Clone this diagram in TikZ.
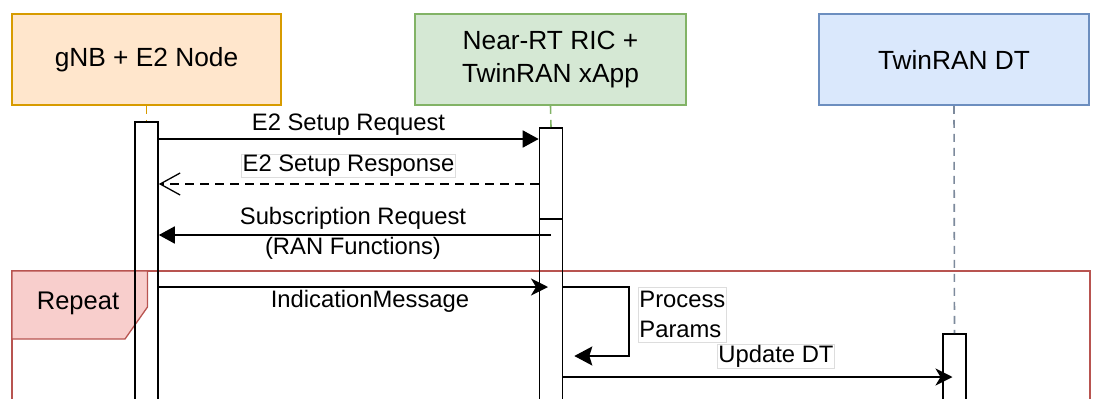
\documentclass[tikz,border=0pt]{standalone}
\usepackage{fontspec}
\setmainfont{Liberation Sans}
\usetikzlibrary{arrows.meta,calc}

\definecolor{orfill}{HTML}{FFE6CC}
\definecolor{orline}{HTML}{D79B00}
\definecolor{grfill}{HTML}{D5E8D4}
\definecolor{grline}{HTML}{82B366}
\definecolor{blfill}{HTML}{DAE8FC}
\definecolor{blline}{HTML}{6C8EBF}
\definecolor{rdfill}{HTML}{F8CECC}
\definecolor{rdline}{HTML}{B85450}
\definecolor{lifegray}{HTML}{7D8A9C}
\definecolor{labelbox}{HTML}{DDDDDD}

\tikzset{
  head/.style={draw, line width=1.6pt, inner sep=0pt, align=center,
    minimum height=91pt, font=\fontsize{26.3}{33}\selectfont},
  lifeline/.style={line width=1.6pt, dash pattern=on 8pt off 6pt},
  actbar/.style={draw, line width=1.6pt, minimum width=23pt, inner sep=0pt,
    anchor=north},
  msg/.style={draw, line width=1.8pt},
  msgtext/.style={font=\fontsize{23.8}{30}\selectfont, inner sep=1pt},
  boxedtext/.style={msgtext, draw=labelbox, line width=0.8pt, fill=white},
  solidtip/.style={-{Triangle[length=16pt,width=17pt]}},
  sharptip/.style={-{Stealth[length=17pt,width=17pt,inset=5pt]}},
  opentip/.style={-{Straight Barb[length=20pt,width=22pt,line width=1.3pt]}},
  frame/.style={draw=rdline, line width=1.3pt},
}

\begin{document}
\begin{tikzpicture}[x=1pt,y=-1pt]
\useasboundingbox (0,0) rectangle (1093,399);
\clip (0,0) rectangle (1093,399);

% participants
\node[head, fill=orfill, draw=orline, minimum width=269pt] (gnb) at (146.5,59.5) {gNB + E2 Node};
\node[head, fill=grfill, draw=grline, minimum width=271pt] (ric) at (550.5,59.5) {Near-RT RIC +\\TwinRAN xApp};
\node[head, fill=blfill, draw=blline, minimum width=270pt] (dt) at (954,59.5) {TwinRAN DT};

% loop frame with its tab
\draw[frame] (12,271) rectangle (1090,430);
\draw[frame, fill=rdfill] (12,271) -- (147.5,271) -- (147.5,307) -- (125,339) -- (12,339) -- cycle;
\node[font=\fontsize{25.5}{30}\selectfont, inner sep=0pt] (rep) at (78,303) {Repeat};

% activation bars
\node[actbar, minimum height=320pt] (g1) at (146.5,121) {};
\node[actbar, minimum height=91pt] (r1) at (551,127) {};
\node[actbar, minimum height=220pt] (r2) at (551,218) {};
\node[actbar, minimum height=120pt] (d1) at (954.5,333) {};

% lifelines
\draw[lifeline, draw=orline] (gnb.south) -- (g1.north);
\draw[lifeline, draw=grline] (ric.south) -- (r1.north);
\draw[lifeline, draw=lifegray] (dt.south) -- (d1.north);

% E2 setup
\draw[msg, solidtip] (g1.east |- 0,139) -- (r1.west |- 0,139);
\node[msgtext] (m1) at (348.5,125) {E2 Setup Request};

\draw[msg, opentip, dash pattern=on 9pt off 6pt] (r1.west |- 0,184) -- (g1.east |- 0,184);
\node[boxedtext] (m2) at (348.5,166) {E2 Setup Response};

% subscription
\draw[msg, solidtip] (r1.center |- 0,235) -- (g1.east |- 0,235);
\node[msgtext] (m3) at (353,218) {Subscription Request};
\node[msgtext] (m3b) at (353,248) {(RAN Functions)};

% indication
\draw[msg, sharptip] (g1.east |- 0,287) -- ($(r2.center |- 0,287)+(-3,0)$);
\node[msgtext] (m4) at (370,301) {IndicationMessage};

% self call
\coordinate (s1) at (629,287);
\coordinate (s2) at (629,356);
\draw[msg, -{Stealth[length=18pt,width=19pt,inset=3pt]}]
  (r2.east |- s1) -- (s1) -- (s2) -- ($(r2.east |- s2)+(11,0)$);
\node[boxedtext, anchor=north west, align=left, inner ysep=4pt] (m5) at (638,287) {Process\\Params};

% update
\draw[msg, sharptip] (r2.east |- 0,377) -- ($(d1.center |- 0,377)+(-2,0)$);
\node[boxedtext] (m6) at (776,356.5) {Update DT};
\end{tikzpicture}
\end{document}
